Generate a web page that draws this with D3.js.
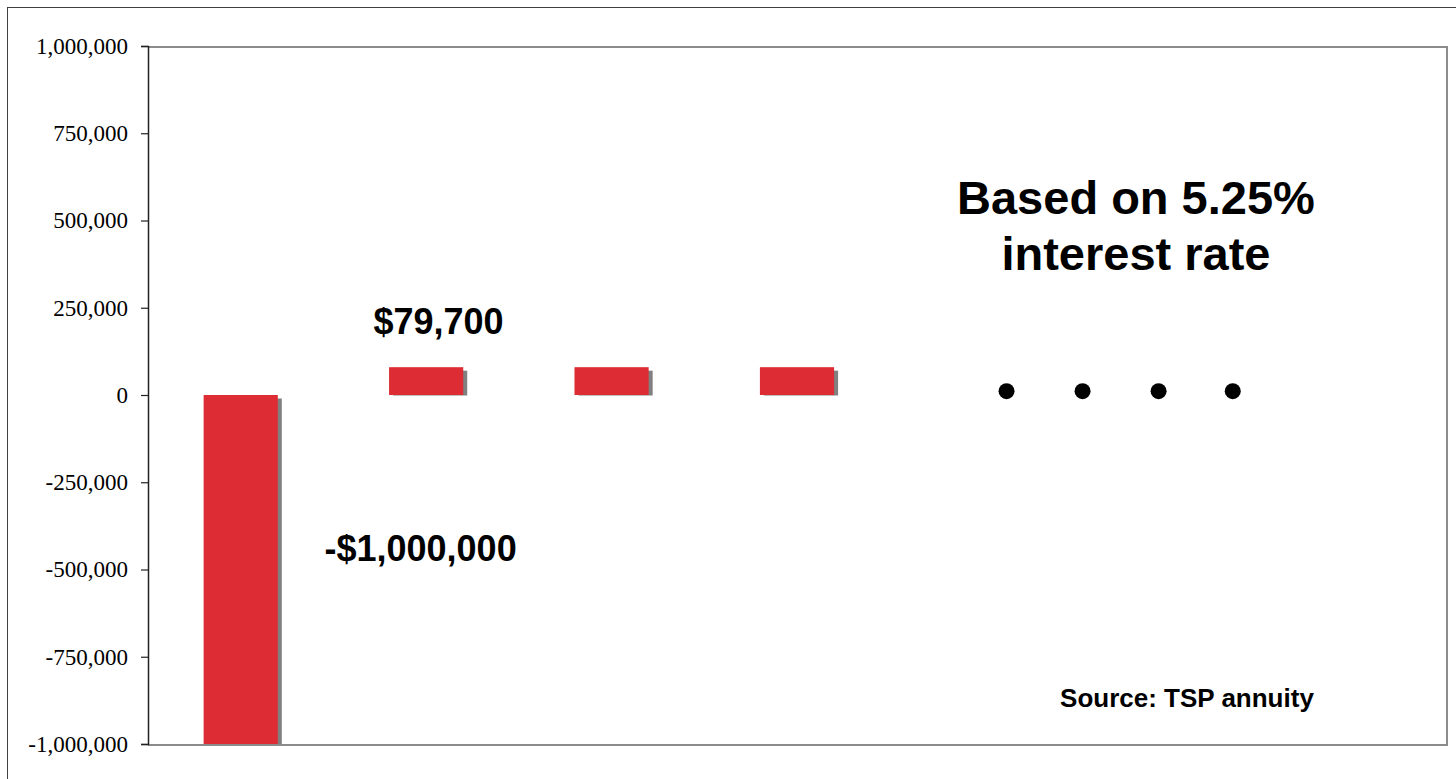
<!DOCTYPE html>
<html>
<head>
<meta charset="utf-8">
<script src="https://cdn.jsdelivr.net/npm/d3@7"></script>
<style>
  html, body { margin: 0; padding: 0; background: #fff; }
  svg { display: block; }
  .ylab { font-family: "Liberation Serif", "Times New Roman", Times, serif; font-size: 23px; }
</style>
</head>
<body>
<svg id="chart" width="1456" height="779"></svg>
<script>
// ---- data ----
const categories = ["Year 0", "Year 1", "Year 2", "Year 3", "Year 4", "Year 5", "Year 6"];
const values = [-1000000, 79700, 79700, 79700, null, null, null];
const yTicks = [-1000000, -750000, -500000, -250000, 0, 250000, 500000, 750000, 1000000];
// continuation dots (position in category units, value)
const dotPositions = [4.63, 5.04, 5.45, 5.85];
const dotValue = 11000;
// annotations (position in category units, value at baseline)
const annotations = [
  { text: "$79,700", pos: 1.567, value: 174800, size: 36 },
  { text: "-$1,000,000", pos: 1.47, value: -475600, size: 36 },
  { text: "Based on 5.25%", pos: 5.328, value: 518600, size: 47 },
  { text: "interest rate", pos: 5.328, value: 358200, size: 47 },
  { text: "Source: TSP annuity", pos: 5.603, value: -893000, size: 26 }
];

// ---- layout ----
const svg = d3.select("#chart");
const plot = { left: 148, right: 1446, top: 46, bottom: 744 };

const x = d3.scaleBand().domain(categories)
  .range([plot.left, plot.right]).paddingInner(0.6).paddingOuter(0.3);
const xCat = d3.scaleLinear().domain([0, categories.length]).range([plot.left, plot.right]);
const y = d3.scaleLinear().domain([-1000000, 1000000]).range([plot.bottom, plot.top]);

// outer frame
svg.append("rect")
  .attr("x", 7.5).attr("y", 7.5).attr("width", 1470).attr("height", 800)
  .attr("fill", "none").attr("stroke", "#404040").attr("stroke-width", 1);

// plot frame (top, right, bottom)
svg.append("path")
  .attr("d", `M${plot.left},${plot.top + 1}H${plot.right + 1}V${plot.bottom + 1}H${plot.left}`)
  .attr("fill", "none").attr("stroke", "#8c8c8c").attr("stroke-width", 2);

const bars = categories.map((c, i) => ({ c, v: values[i] })).filter(d => d.v !== null);

// shadows
svg.append("g").selectAll("rect").data(bars).join("rect")
  .attr("x", d => x(d.c) + 4)
  .attr("y", d => Math.min(y(d.v), y(0)) + 3.5)
  .attr("width", x.bandwidth())
  .attr("height", d => Math.abs(y(d.v) - y(0)) - 3.5 + (d.v > 0 ? 0.5 : 0))
  .attr("fill", "#808080");

// bars
svg.append("g").selectAll("rect").data(bars).join("rect")
  .attr("x", d => x(d.c))
  .attr("y", d => Math.min(y(d.v), y(0)))
  .attr("width", x.bandwidth())
  .attr("height", d => Math.abs(y(d.v) - y(0)))
  .attr("fill", "#DD2C33");

// y axis
const fmt = d3.format(",");
const yAxis = d3.axisLeft(y).tickValues(yTicks)
  .tickFormat(d => fmt(d).replace("\u2212", "-"))
  .tickSize(7).tickPadding(13);
const gy = svg.append("g").attr("transform", `translate(${plot.left},0)`).call(yAxis)
  .attr("font-family", null).attr("font-size", null);
gy.select(".domain").attr("stroke", "#222").attr("stroke-width", 1.5);
gy.selectAll(".tick line").attr("stroke", "#222").attr("stroke-width", 1.2);
gy.selectAll(".tick text")
  .attr("class", "ylab")
  .attr("fill", "#000");

// dots
svg.append("g").selectAll("circle").data(dotPositions).join("circle")
  .attr("cx", d => xCat(d))
  .attr("cy", y(dotValue))
  .attr("r", 8)
  .attr("fill", "#000");

// annotations
svg.append("g").selectAll("text").data(annotations).join("text")
  .attr("x", d => xCat(d.pos))
  .attr("y", d => y(d.value))
  .attr("text-anchor", "middle")
  .style("font-family", "'Liberation Sans', Arial, sans-serif")
  .style("font-weight", "bold")
  .style("font-size", d => d.size + "px")
  .attr("fill", "#000")
  .text(d => d.text);
</script>
</body>
</html>
